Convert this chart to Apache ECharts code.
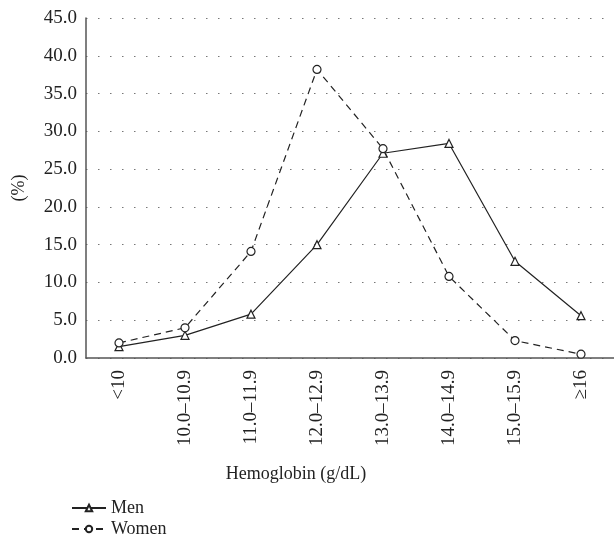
<!DOCTYPE html>
<html lang="en">
<head>
  <meta charset="UTF-8">
  <title>Hemoglobin</title>
  <script src="https://cdn.jsdelivr.net/npm/echarts@6/dist/echarts.min.js"></script>
  <style>body{margin:0;background:#fff;}</style>
</head>
<body>
  <div id="chart" style="width:614px; height:541px;"></div>
  <script>
    // categories and values
    var categories = ["<10", "10.0–10.9", "11.0–11.9", "12.0–12.9", "13.0–13.9", "14.0–14.9", "15.0–15.9", "≥16"];
    var men = [1.5, 3.0, 5.8, 15.0, 27.1, 28.4, 12.8, 5.6];
    var women = [2.0, 4.0, 14.1, 38.2, 27.7, 10.8, 2.3, 0.5];

    var font = "Liberation Serif";
    var legendText = { fontFamily: font, fontSize: 18, color: "#222" };
    var myChart = echarts.init(document.getElementById("chart"));
    var option = {
      animation: false,
      textStyle: { fontFamily: font, color: "#222" },
      grid: { left: 86, right: 0, top: 18, bottom: 183, outerBoundsMode: "none" },
      // one legend per row so they stack like the figure
      legend: [
        { left: 66, top: 494, itemWidth: 34, itemHeight: 8, itemGap: 12, textStyle: legendText, data: ["Men"] },
        { left: 66, top: 515, itemWidth: 34, itemHeight: 8, itemGap: 12, textStyle: legendText, data: ["Women"] }
      ],
      xAxis: {
        type: "category",
        data: categories,
        name: "Hemoglobin (g/dL)",
        nameLocation: "middle",
        nameGap: 107,
        nameTextStyle: { fontFamily: font, fontSize: 18, color: "#222", padding: [0, 108, 0, 0] },
        axisLine: { lineStyle: { color: "#555", width: 1.5 } },
        axisTick: { show: false },
        axisLabel: { rotate: 90, fontFamily: font, fontSize: 19, color: "#222", margin: 12 }
      },
      yAxis: {
        type: "value",
        min: 0,
        max: 45,
        interval: 5,
        name: "(%)",
        nameLocation: "middle",
        nameGap: 58,
        nameTextStyle: { fontFamily: font, fontSize: 18, color: "#222" },
        axisLine: { show: true, lineStyle: { color: "#555", width: 1.5 } },
        axisTick: { show: false },
        axisLabel: {
          fontFamily: font, fontSize: 19, color: "#222", margin: 9,
          formatter: function (v) { return v.toFixed(1); }
        },
        splitLine: { lineStyle: { color: "#777", type: [1.5, 10.5], width: 1 } }
      },
      series: [
        {
          name: "Men",
          type: "line",
          data: men,
          symbol: "triangle",
          symbolSize: 8,
          itemStyle: { color: "#fff", borderColor: "#222", borderWidth: 1.2 },
          lineStyle: { color: "#222", width: 1.2 }
        },
        {
          name: "Women",
          type: "line",
          data: women,
          symbol: "circle",
          symbolSize: 8,
          itemStyle: { color: "#fff", borderColor: "#222", borderWidth: 1.2 },
          lineStyle: { color: "#222", width: 1.2, type: [7, 5] }
        }
      ]
    };
    myChart.setOption(option);
  </script>
</body>
</html>
